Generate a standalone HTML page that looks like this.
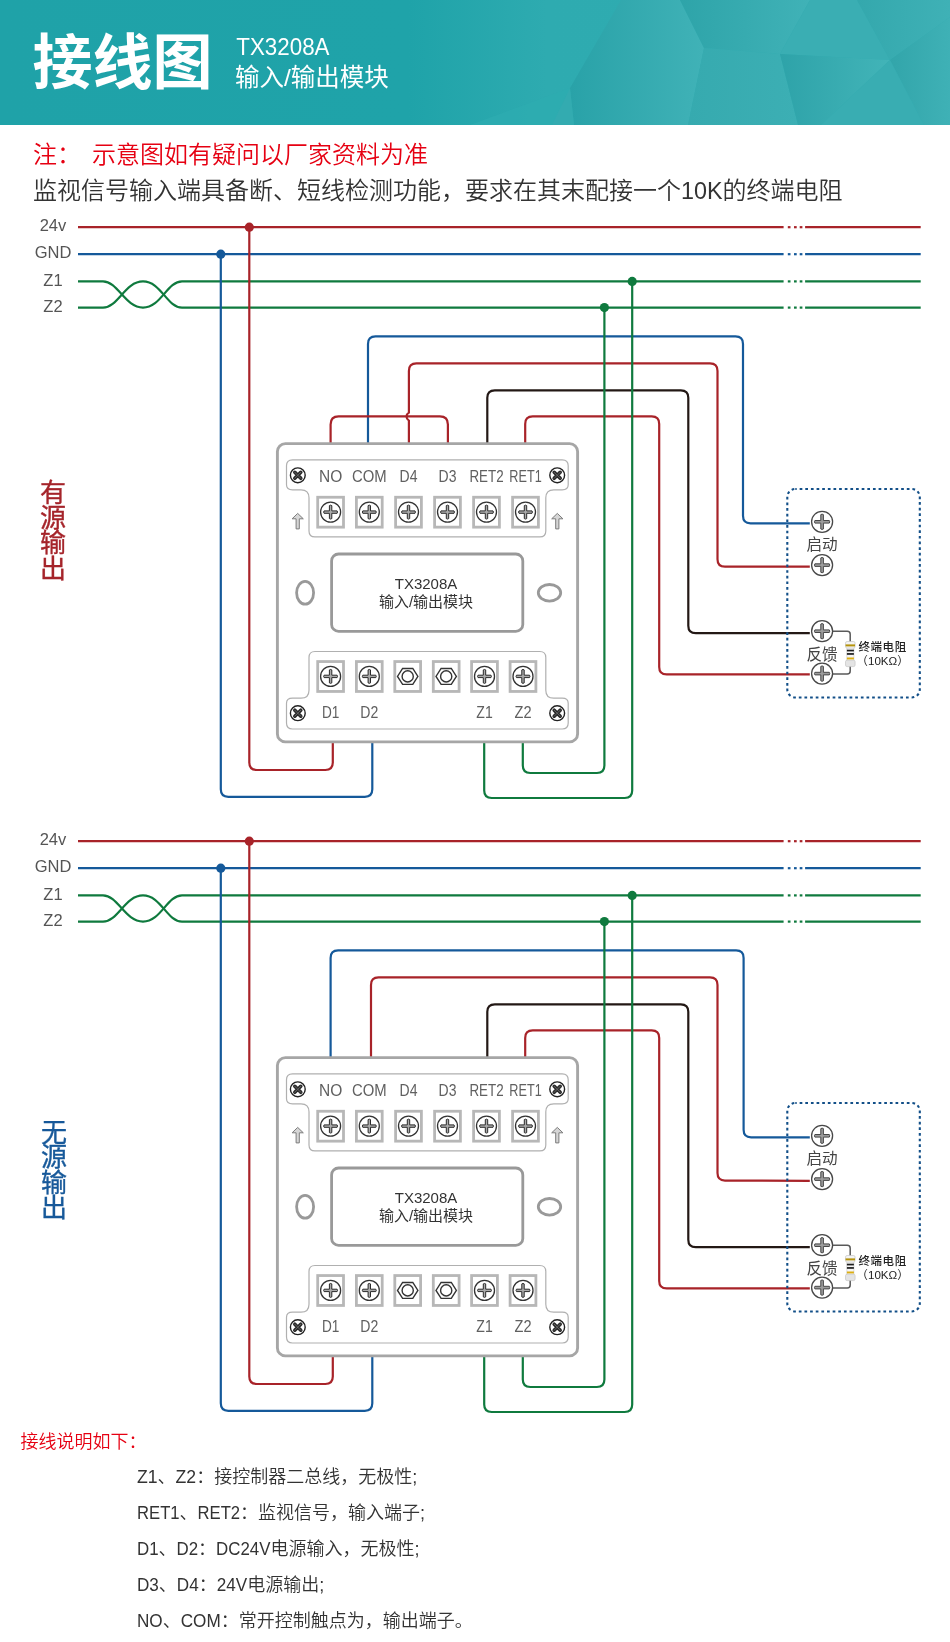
<!DOCTYPE html>
<html lang="zh-CN">
<head>
<meta charset="utf-8">
<title>TX3208A 输入/输出模块 接线图</title>
<style>
html,body{margin:0;padding:0;background:#fff;}
body{width:950px;height:1642px;overflow:hidden;}
svg{display:block;will-change:transform;}
svg text{font-family:"Liberation Sans", "Noto Sans CJK SC", sans-serif;}
</style>
</head>
<body>
<svg width="950" height="1642" viewBox="0 0 950 1642">
<rect x="0" y="0" width="950" height="1642" fill="#fff"/>
<g id="hdr">
<defs>
<linearGradient id="gA" gradientUnits="userSpaceOnUse" x1="0" y1="0" x2="950" y2="0"><stop offset="0" stop-color="#1fa2a8"/><stop offset="0.43" stop-color="#1fa3a9"/><stop offset="0.575" stop-color="#2eabb0"/><stop offset="1" stop-color="#30acb1"/></linearGradient>
<linearGradient id="gB" x1="0" y1="0" x2="1" y2="0"><stop offset="0" stop-color="#29a2a8"/><stop offset="1" stop-color="#40b2b7"/></linearGradient>
<linearGradient id="gD" x1="0" y1="0" x2="1" y2="0"><stop offset="0" stop-color="#2ea4a9"/><stop offset="1" stop-color="#40b2b7"/></linearGradient>
<linearGradient id="gE" x1="0" y1="0" x2="1" y2="0"><stop offset="0" stop-color="#36aaaf"/><stop offset="1" stop-color="#3cafb4"/></linearGradient>
<linearGradient id="gG" x1="0" y1="0" x2="1" y2="0"><stop offset="0" stop-color="#2ea3a9"/><stop offset="1" stop-color="#42b4b8"/></linearGradient>
<linearGradient id="gH" x1="0" y1="0" x2="1" y2="0"><stop offset="0" stop-color="#34a8ad"/><stop offset="1" stop-color="#3fb1b6"/></linearGradient>
<linearGradient id="gI" x1="0" y1="0" x2="1" y2="0"><stop offset="0" stop-color="#32a5aa"/><stop offset="1" stop-color="#3fb1b6"/></linearGradient>
</defs>
<rect x="0" y="0" width="950" height="125" fill="url(#gA)"/>
<polygon points="621,0 680,0 704,48 688,125 574,125 570,88" fill="url(#gB)"/>
<polygon points="570,88 470,125 552,125" fill="#2eacb0" opacity="0.7"/>
<polygon points="570,88 552,125 574,125" fill="#33abb0"/>
<polygon points="680,0 810,0 780,54 704,48" fill="url(#gD)"/>
<polygon points="704,48 780,54 798,125 688,125" fill="url(#gE)"/>
<polygon points="810,0 857,0 890,60 780,54" fill="#3aaeb3"/>
<polygon points="780,54 890,60 821,125 798,125" fill="url(#gG)"/>
<polygon points="857,0 950,0 950,17 890,60" fill="url(#gH)"/>
<polygon points="890,60 950,17 950,125 924,125" fill="url(#gI)"/>
<polygon points="890,60 924,125 821,125" fill="#39adb2"/>
</g>
<text x="32.5" y="83.8" font-size="60" font-weight="700" fill="#fff" id="t_title">接线图</text>
<text x="236.3" y="54.6" font-size="24.8" font-weight="300" fill="#fff" id="t_model" textLength="93.2" lengthAdjust="spacingAndGlyphs">TX3208A</text>
<text x="235" y="86.4" font-size="24.5" font-weight="400" fill="#fff" id="t_sub">输入/输出模块</text>
<text x="33" y="163" font-size="24" font-weight="350" fill="#e60012" id="t_n1a">注：</text>
<text x="92" y="163" font-size="24" font-weight="350" fill="#e60012" id="t_n1b">示意图如有疑问以厂家资料为准</text>
<text x="33" y="199" font-size="24" font-weight="350" fill="#333" id="t_n2">监视信号输入端具备断、短线检测功能，要求在其末配接一个<tspan font-size="24.5" textLength="41.6" lengthAdjust="spacingAndGlyphs">10K</tspan>的终端电阻</text>
<path d="M78,227.2 L783.6,227.2" stroke="#a82329" stroke-width="2.2" fill="none"/>
<path d="M805.1,227.2 L920.7,227.2" stroke="#a82329" stroke-width="2.2" fill="none"/>
<rect x="787.8" y="226.1" width="2.7" height="2.2" fill="#a82329"/>
<rect x="794.0" y="226.1" width="2.7" height="2.2" fill="#a82329"/>
<rect x="799.7" y="226.1" width="2.7" height="2.2" fill="#a82329"/>
<text x="53" y="231.39999999999998" font-size="16.5" fill="#555" text-anchor="middle" class="bl">24v</text>
<path d="M78,254.2 L783.6,254.2" stroke="#15599a" stroke-width="2.2" fill="none"/>
<path d="M805.1,254.2 L920.7,254.2" stroke="#15599a" stroke-width="2.2" fill="none"/>
<rect x="787.8" y="253.1" width="2.7" height="2.2" fill="#15599a"/>
<rect x="794.0" y="253.1" width="2.7" height="2.2" fill="#15599a"/>
<rect x="799.7" y="253.1" width="2.7" height="2.2" fill="#15599a"/>
<text x="53" y="258.4" font-size="16.5" fill="#555" text-anchor="middle" class="bl">GND</text>
<path d="M805.1,281.4 L920.7,281.4" stroke="#0f7a3e" stroke-width="2.2" fill="none"/>
<rect x="787.8" y="280.29999999999995" width="2.7" height="2.2" fill="#0f7a3e"/>
<rect x="794.0" y="280.29999999999995" width="2.7" height="2.2" fill="#0f7a3e"/>
<rect x="799.7" y="280.29999999999995" width="2.7" height="2.2" fill="#0f7a3e"/>
<text x="53" y="285.59999999999997" font-size="16.5" fill="#555" text-anchor="middle" class="bl">Z1</text>
<path d="M805.1,307.6 L920.7,307.6" stroke="#0f7a3e" stroke-width="2.2" fill="none"/>
<rect x="787.8" y="306.5" width="2.7" height="2.2" fill="#0f7a3e"/>
<rect x="794.0" y="306.5" width="2.7" height="2.2" fill="#0f7a3e"/>
<rect x="799.7" y="306.5" width="2.7" height="2.2" fill="#0f7a3e"/>
<text x="53" y="311.8" font-size="16.5" fill="#555" text-anchor="middle" class="bl">Z2</text>
<path d="M78,281.4 L103,281.4 C118,281.4 125,307.6 143,307.6 C161,307.6 167,281.4 182,281.4 L783.6,281.4" stroke="#0f7a3e" stroke-width="2.2" fill="none"/>
<path d="M78,307.6 L103,307.6 C118,307.6 125,281.4 143,281.4 C161,281.4 167,307.6 182,307.6 L783.6,307.6" stroke="#0f7a3e" stroke-width="2.2" fill="none"/>
<path d="M368,443 L368.00,343.90 Q368,336.4 375.50,336.40 L735.50,336.40 Q743,336.4 743.00,343.90 L743.00,515.80 Q743,523.3 750.50,523.30 L809.8,523.3" fill="none" stroke="#15599a" stroke-width="2.2"/>
<path d="M408.9,443 L408.9,420.6 Q406.5,419.2 406.5,416.6 Q406.5,414 408.9,412.6 L408.90,370.90 Q408.9,363.4 416.40,363.40 L710.00,363.40 Q717.5,363.4 717.50,370.90 L717.50,559.20 Q717.5,566.7 725.00,566.70 L809.8,566.7" fill="none" stroke="#a82329" stroke-width="2.2"/>
<path d="M330.6,443 L330.60,424.40 Q330.6,416.4 338.60,416.40 L439.90,416.40 Q447.9,416.4 447.90,424.40 L447.9,443" fill="none" stroke="#a82329" stroke-width="2.2"/>
<path d="M487.3,443 L487.30,397.80 Q487.3,390.3 494.80,390.30 L680.80,390.30 Q688.3,390.3 688.30,397.80 L688.30,625.70 Q688.3,633.2 695.80,633.20 L809.8,633.2" fill="none" stroke="#231815" stroke-width="2.2"/>
<path d="M525.2,443 L525.20,423.90 Q525.2,416.4 532.70,416.40 L651.70,416.40 Q659.2,416.4 659.20,423.90 L659.20,666.90 Q659.2,674.4 666.70,674.40 L809.8,674.4" fill="none" stroke="#a82329" stroke-width="2.2"/>
<path d="M332.8,742 L332.80,762.50 Q332.8,770 325.30,770.00 L256.80,770.00 Q249.3,770 249.30,762.50 L249.3,227.2" fill="none" stroke="#a82329" stroke-width="2.2"/>
<path d="M372.3,742 L372.30,789.30 Q372.3,796.8 364.80,796.80 L228.30,796.80 Q220.8,796.8 220.80,789.30 L220.8,254.2" fill="none" stroke="#15599a" stroke-width="2.2"/>
<path d="M484.2,742 L484.20,790.50 Q484.2,798 491.70,798.00 L624.70,798.00 Q632.2,798 632.20,790.50 L632.2,281.4" fill="none" stroke="#0f7a3e" stroke-width="2.2"/>
<path d="M522.8,742 L522.80,765.50 Q522.8,773 530.30,773.00 L596.90,773.00 Q604.4,773 604.40,765.50 L604.4,307.6" fill="none" stroke="#0f7a3e" stroke-width="2.2"/>
<circle cx="249.3" cy="227.2" r="4.6" fill="#a82329"/>
<circle cx="220.8" cy="254.2" r="4.6" fill="#15599a"/>
<circle cx="632.2" cy="281.4" r="4.6" fill="#0f7a3e"/>
<circle cx="604.4" cy="307.6" r="4.6" fill="#0f7a3e"/>
<rect x="277.4" y="443.6" width="300.2" height="298.3" rx="8" ry="8" fill="#fff" stroke="#a6a6a6" stroke-width="2.9"/>
<path d="M292.5,459.8 L562.2,459.8 Q568.2,459.8 568.2,465.8 L568.2,484.8 Q568.2,489.8 562.2,489.8 L553.8,489.8 Q545.8,489.8 545.8,497.8 L545.8,530.9 Q545.8,536.9 539.8,536.9 L315.0,536.9 Q309.0,536.9 309.0,530.9 L309.0,497.8 Q309.0,489.8 301.0,489.8 L292.5,489.8 Q286.5,489.8 286.5,484.8 L286.5,465.8 Q286.5,459.8 292.5,459.8 Z" fill="#fff" stroke="#b0b0b0" stroke-width="1.2"/>
<path d="M315.0,651.5 L539.8,651.5 Q545.8,651.5 545.8,657.5 L545.8,690.2 Q545.8,698.2 553.8,698.2 L562.2,698.2 Q568.2,698.2 568.2,703.2 L568.2,723.0 Q568.2,729.0 562.2,729.0 L292.5,729.0 Q286.5,729.0 286.5,723.0 L286.5,703.2 Q286.5,698.2 292.5,698.2 L301.0,698.2 Q309.0,698.2 309.0,690.2 L309.0,657.5 Q309.0,651.5 315.0,651.5 Z" fill="#fff" stroke="#b0b0b0" stroke-width="1.2"/>
<circle cx="297.8" cy="475.3" r="7.4" fill="#fff" stroke="#222" stroke-width="1.4"/><path d="M294.8,472.3 L300.8,478.3 M300.8,472.3 L294.8,478.3" stroke="#2b2b2b" stroke-width="3.6" stroke-linecap="round" fill="none"/><path d="M294.8,472.3 L300.8,478.3 M300.8,472.3 L294.8,478.3" stroke="#777" stroke-width="0.7" stroke-linecap="round" fill="none"/>
<circle cx="557.2" cy="475.3" r="7.4" fill="#fff" stroke="#222" stroke-width="1.4"/><path d="M554.2,472.3 L560.2,478.3 M560.2,472.3 L554.2,478.3" stroke="#2b2b2b" stroke-width="3.6" stroke-linecap="round" fill="none"/><path d="M554.2,472.3 L560.2,478.3 M560.2,472.3 L554.2,478.3" stroke="#777" stroke-width="0.7" stroke-linecap="round" fill="none"/>
<circle cx="297.8" cy="713.2" r="7.4" fill="#fff" stroke="#222" stroke-width="1.4"/><path d="M294.8,710.2 L300.8,716.2 M300.8,710.2 L294.8,716.2" stroke="#2b2b2b" stroke-width="3.6" stroke-linecap="round" fill="none"/><path d="M294.8,710.2 L300.8,716.2 M300.8,710.2 L294.8,716.2" stroke="#777" stroke-width="0.7" stroke-linecap="round" fill="none"/>
<circle cx="557.2" cy="713.2" r="7.4" fill="#fff" stroke="#222" stroke-width="1.4"/><path d="M554.2,710.2 L560.2,716.2 M560.2,710.2 L554.2,716.2" stroke="#2b2b2b" stroke-width="3.6" stroke-linecap="round" fill="none"/><path d="M554.2,710.2 L560.2,716.2 M560.2,710.2 L554.2,716.2" stroke="#777" stroke-width="0.7" stroke-linecap="round" fill="none"/>
<path d="M297.7,513.4 L303.3,518.8 L299.3,518.8 L299.3,528.9 L296.09999999999997,528.9 L296.09999999999997,518.8 L292.09999999999997,518.8 Z" fill="#d6d6d6" stroke="#7c7c7c" stroke-width="1" stroke-linejoin="miter"/>
<path d="M557.3,513.4 L562.9,518.8 L558.9,518.8 L558.9,528.9 L555.6999999999999,528.9 L555.6999999999999,518.8 L551.6999999999999,518.8 Z" fill="#d6d6d6" stroke="#7c7c7c" stroke-width="1" stroke-linejoin="miter"/>
<rect x="317.70000000000005" y="497.25" width="25.8" height="29.9" fill="#fff" stroke="#b7b7b7" stroke-width="2.8"/>
<circle cx="330.6" cy="512.1" r="10.0" fill="#fff" stroke="#333" stroke-width="1.3"/><path d="M329.40000000000003,505.6 Q330.6,504.70000000000005 331.8,505.6 L331.8,510.90000000000003 L337.1,510.90000000000003 Q338.0,512.1 337.1,513.3000000000001 L331.8,513.3000000000001 L331.8,518.6 Q330.6,519.5 329.40000000000003,518.6 L329.40000000000003,513.3000000000001 L324.1,513.3000000000001 Q323.20000000000005,512.1 324.1,510.90000000000003 L329.40000000000003,510.90000000000003 Z" fill="#aaaaaa" stroke="#2a2a2a" stroke-width="1"/>
<text x="330.6" y="481.6" font-size="15.6" fill="#606060" text-anchor="middle" class="tl" textLength="23.3" lengthAdjust="spacingAndGlyphs">NO</text>
<rect x="356.40000000000003" y="497.25" width="25.8" height="29.9" fill="#fff" stroke="#b7b7b7" stroke-width="2.8"/>
<circle cx="369.3" cy="512.1" r="10.0" fill="#fff" stroke="#333" stroke-width="1.3"/><path d="M368.1,505.6 Q369.3,504.70000000000005 370.5,505.6 L370.5,510.90000000000003 L375.8,510.90000000000003 Q376.7,512.1 375.8,513.3000000000001 L370.5,513.3000000000001 L370.5,518.6 Q369.3,519.5 368.1,518.6 L368.1,513.3000000000001 L362.8,513.3000000000001 Q361.90000000000003,512.1 362.8,510.90000000000003 L368.1,510.90000000000003 Z" fill="#aaaaaa" stroke="#2a2a2a" stroke-width="1"/>
<text x="369.3" y="481.6" font-size="15.6" fill="#606060" text-anchor="middle" class="tl" textLength="34.7" lengthAdjust="spacingAndGlyphs">COM</text>
<rect x="395.6" y="497.25" width="25.8" height="29.9" fill="#fff" stroke="#b7b7b7" stroke-width="2.8"/>
<circle cx="408.5" cy="512.1" r="10.0" fill="#fff" stroke="#333" stroke-width="1.3"/><path d="M407.3,505.6 Q408.5,504.70000000000005 409.7,505.6 L409.7,510.90000000000003 L415.0,510.90000000000003 Q415.9,512.1 415.0,513.3000000000001 L409.7,513.3000000000001 L409.7,518.6 Q408.5,519.5 407.3,518.6 L407.3,513.3000000000001 L402.0,513.3000000000001 Q401.1,512.1 402.0,510.90000000000003 L407.3,510.90000000000003 Z" fill="#aaaaaa" stroke="#2a2a2a" stroke-width="1"/>
<text x="408.5" y="481.6" font-size="15.6" fill="#606060" text-anchor="middle" class="tl" textLength="17.9" lengthAdjust="spacingAndGlyphs">D4</text>
<rect x="434.6" y="497.25" width="25.8" height="29.9" fill="#fff" stroke="#b7b7b7" stroke-width="2.8"/>
<circle cx="447.5" cy="512.1" r="10.0" fill="#fff" stroke="#333" stroke-width="1.3"/><path d="M446.3,505.6 Q447.5,504.70000000000005 448.7,505.6 L448.7,510.90000000000003 L454.0,510.90000000000003 Q454.9,512.1 454.0,513.3000000000001 L448.7,513.3000000000001 L448.7,518.6 Q447.5,519.5 446.3,518.6 L446.3,513.3000000000001 L441.0,513.3000000000001 Q440.1,512.1 441.0,510.90000000000003 L446.3,510.90000000000003 Z" fill="#aaaaaa" stroke="#2a2a2a" stroke-width="1"/>
<text x="447.5" y="481.6" font-size="15.6" fill="#606060" text-anchor="middle" class="tl" textLength="17.9" lengthAdjust="spacingAndGlyphs">D3</text>
<rect x="473.6" y="497.25" width="25.8" height="29.9" fill="#fff" stroke="#b7b7b7" stroke-width="2.8"/>
<circle cx="486.5" cy="512.1" r="10.0" fill="#fff" stroke="#333" stroke-width="1.3"/><path d="M485.3,505.6 Q486.5,504.70000000000005 487.7,505.6 L487.7,510.90000000000003 L493.0,510.90000000000003 Q493.9,512.1 493.0,513.3000000000001 L487.7,513.3000000000001 L487.7,518.6 Q486.5,519.5 485.3,518.6 L485.3,513.3000000000001 L480.0,513.3000000000001 Q479.1,512.1 480.0,510.90000000000003 L485.3,510.90000000000003 Z" fill="#aaaaaa" stroke="#2a2a2a" stroke-width="1"/>
<text x="486.5" y="481.6" font-size="15.6" fill="#606060" text-anchor="middle" class="tl" textLength="34.2" lengthAdjust="spacingAndGlyphs">RET2</text>
<rect x="512.6" y="497.25" width="25.8" height="29.9" fill="#fff" stroke="#b7b7b7" stroke-width="2.8"/>
<circle cx="525.5" cy="512.1" r="10.0" fill="#fff" stroke="#333" stroke-width="1.3"/><path d="M524.3,505.6 Q525.5,504.70000000000005 526.7,505.6 L526.7,510.90000000000003 L532.0,510.90000000000003 Q532.9,512.1 532.0,513.3000000000001 L526.7,513.3000000000001 L526.7,518.6 Q525.5,519.5 524.3,518.6 L524.3,513.3000000000001 L519.0,513.3000000000001 Q518.1,512.1 519.0,510.90000000000003 L524.3,510.90000000000003 Z" fill="#aaaaaa" stroke="#2a2a2a" stroke-width="1"/>
<text x="525.5" y="481.6" font-size="15.6" fill="#606060" text-anchor="middle" class="tl" textLength="32.4" lengthAdjust="spacingAndGlyphs">RET1</text>
<rect x="317.70000000000005" y="661.55" width="25.8" height="29.9" fill="#fff" stroke="#b7b7b7" stroke-width="2.8"/>
<circle cx="330.6" cy="676.4" r="10.0" fill="#fff" stroke="#333" stroke-width="1.3"/><path d="M329.40000000000003,669.9 Q330.6,669.0 331.8,669.9 L331.8,675.1999999999999 L337.1,675.1999999999999 Q338.0,676.4 337.1,677.6 L331.8,677.6 L331.8,682.9 Q330.6,683.8 329.40000000000003,682.9 L329.40000000000003,677.6 L324.1,677.6 Q323.20000000000005,676.4 324.1,675.1999999999999 L329.40000000000003,675.1999999999999 Z" fill="#aaaaaa" stroke="#2a2a2a" stroke-width="1"/>
<rect x="356.40000000000003" y="661.55" width="25.8" height="29.9" fill="#fff" stroke="#b7b7b7" stroke-width="2.8"/>
<circle cx="369.3" cy="676.4" r="10.0" fill="#fff" stroke="#333" stroke-width="1.3"/><path d="M368.1,669.9 Q369.3,669.0 370.5,669.9 L370.5,675.1999999999999 L375.8,675.1999999999999 Q376.7,676.4 375.8,677.6 L370.5,677.6 L370.5,682.9 Q369.3,683.8 368.1,682.9 L368.1,677.6 L362.8,677.6 Q361.90000000000003,676.4 362.8,675.1999999999999 L368.1,675.1999999999999 Z" fill="#aaaaaa" stroke="#2a2a2a" stroke-width="1"/>
<rect x="394.8" y="661.55" width="25.8" height="29.9" fill="#fff" stroke="#b7b7b7" stroke-width="2.8"/>
<polygon points="417.90,676.40 412.80,684.35 402.60,684.35 397.50,676.40 402.60,668.45 412.80,668.45" fill="#fff" stroke="#333" stroke-width="1.4"/><circle cx="407.7" cy="676.4" r="5.6" fill="#fff" stroke="#333" stroke-width="1.4"/>
<rect x="433.3" y="661.55" width="25.8" height="29.9" fill="#fff" stroke="#b7b7b7" stroke-width="2.8"/>
<polygon points="456.40,676.40 451.30,684.35 441.10,684.35 436.00,676.40 441.10,668.45 451.30,668.45" fill="#fff" stroke="#333" stroke-width="1.4"/><circle cx="446.2" cy="676.4" r="5.6" fill="#fff" stroke="#333" stroke-width="1.4"/>
<rect x="471.6" y="661.55" width="25.8" height="29.9" fill="#fff" stroke="#b7b7b7" stroke-width="2.8"/>
<circle cx="484.5" cy="676.4" r="10.0" fill="#fff" stroke="#333" stroke-width="1.3"/><path d="M483.3,669.9 Q484.5,669.0 485.7,669.9 L485.7,675.1999999999999 L491.0,675.1999999999999 Q491.9,676.4 491.0,677.6 L485.7,677.6 L485.7,682.9 Q484.5,683.8 483.3,682.9 L483.3,677.6 L478.0,677.6 Q477.1,676.4 478.0,675.1999999999999 L483.3,675.1999999999999 Z" fill="#aaaaaa" stroke="#2a2a2a" stroke-width="1"/>
<rect x="510.1" y="661.55" width="25.8" height="29.9" fill="#fff" stroke="#b7b7b7" stroke-width="2.8"/>
<circle cx="523.0" cy="676.4" r="10.0" fill="#fff" stroke="#333" stroke-width="1.3"/><path d="M521.8,669.9 Q523.0,669.0 524.2,669.9 L524.2,675.1999999999999 L529.5,675.1999999999999 Q530.4,676.4 529.5,677.6 L524.2,677.6 L524.2,682.9 Q523.0,683.8 521.8,682.9 L521.8,677.6 L516.5,677.6 Q515.6,676.4 516.5,675.1999999999999 L521.8,675.1999999999999 Z" fill="#aaaaaa" stroke="#2a2a2a" stroke-width="1"/>
<text x="330.6" y="717.8" font-size="15.6" fill="#606060" text-anchor="middle" class="tl" textLength="17.4" lengthAdjust="spacingAndGlyphs">D1</text>
<text x="369.3" y="717.8" font-size="15.6" fill="#606060" text-anchor="middle" class="tl" textLength="18.0" lengthAdjust="spacingAndGlyphs">D2</text>
<text x="484.5" y="717.8" font-size="15.6" fill="#606060" text-anchor="middle" class="tl" textLength="16.4" lengthAdjust="spacingAndGlyphs">Z1</text>
<text x="523.0" y="717.8" font-size="15.6" fill="#606060" text-anchor="middle" class="tl" textLength="17.0" lengthAdjust="spacingAndGlyphs">Z2</text>
<rect x="331.6" y="554" width="191.2" height="77.4" rx="7" ry="7" fill="#fff" stroke="#999" stroke-width="2.8"/>
<ellipse cx="305.1" cy="592.8" rx="8.5" ry="11.4" fill="#fff" stroke="#999" stroke-width="2.8"/>
<ellipse cx="549.5" cy="592.8" rx="11.2" ry="8.3" fill="#fff" stroke="#999" stroke-width="2.8"/>
<text x="426" y="588.8" font-size="15" fill="#333" text-anchor="middle" class="mc">TX3208A</text>
<text x="426" y="606.8" font-size="15" fill="#333" text-anchor="middle" class="mc2">输入/输出模块</text>
<rect x="787.3" y="489" width="132.5" height="208.5" rx="8" ry="8" fill="none" stroke="#124f88" stroke-width="2.1" stroke-dasharray="2.7 2.94" stroke-dashoffset="1.3"/>
<path d="M830,631.3 L847.20,631.30 Q850.2,631.3 850.20,634.30 L850.20,671.10 Q850.2,674.1 847.20,674.10 L830,674.1" fill="none" stroke="#5a5a5a" stroke-width="1.5"/>
<rect x="846.9" y="646" width="7" height="16" fill="#f6f6f6" stroke="#cfcfcf" stroke-width="0.7"/>
<rect x="845.5" y="641.5" width="9.6" height="6.6" rx="1.6" fill="#f3f3f3" stroke="#c6c6c6" stroke-width="0.7"/>
<rect x="845.5" y="660.2" width="9.6" height="6.4" rx="1.6" fill="#e4e4e4" stroke="#c6c6c6" stroke-width="0.7"/>
<rect x="845.6" y="644.4" width="9.4" height="2" fill="#b5930c"/>
<rect x="846.9" y="649.7" width="7" height="1.7" fill="#1c1c1c"/>
<rect x="846.9" y="653.1" width="7" height="1.7" fill="#1c1c1c"/>
<rect x="846.9" y="657.5" width="7" height="1.9" fill="#dcae12"/>
<circle cx="822.1" cy="521.8" r="10.5" fill="#fff" stroke="#484848" stroke-width="1.3"/><path d="M820.8000000000001,514.5999999999999 Q822.1,513.6999999999999 823.4,514.5999999999999 L823.4,520.5 L829.3000000000001,520.5 Q830.2,521.8 829.3000000000001,523.0999999999999 L823.4,523.0999999999999 L823.4,529.0 Q822.1,529.9 820.8000000000001,529.0 L820.8000000000001,523.0999999999999 L814.9,523.0999999999999 Q814.0,521.8 814.9,520.5 L820.8000000000001,520.5 Z" fill="#9c9c9c" stroke="#484848" stroke-width="1"/>
<circle cx="822.1" cy="565.1" r="10.5" fill="#fff" stroke="#484848" stroke-width="1.3"/><path d="M820.8000000000001,557.9 Q822.1,557.0 823.4,557.9 L823.4,563.8000000000001 L829.3000000000001,563.8000000000001 Q830.2,565.1 829.3000000000001,566.4 L823.4,566.4 L823.4,572.3000000000001 Q822.1,573.2 820.8000000000001,572.3000000000001 L820.8000000000001,566.4 L814.9,566.4 Q814.0,565.1 814.9,563.8000000000001 L820.8000000000001,563.8000000000001 Z" fill="#9c9c9c" stroke="#484848" stroke-width="1"/>
<circle cx="822.1" cy="631.2" r="10.5" fill="#fff" stroke="#484848" stroke-width="1.3"/><path d="M820.8000000000001,624.0 Q822.1,623.1 823.4,624.0 L823.4,629.9000000000001 L829.3000000000001,629.9000000000001 Q830.2,631.2 829.3000000000001,632.5 L823.4,632.5 L823.4,638.4000000000001 Q822.1,639.3000000000001 820.8000000000001,638.4000000000001 L820.8000000000001,632.5 L814.9,632.5 Q814.0,631.2 814.9,629.9000000000001 L820.8000000000001,629.9000000000001 Z" fill="#9c9c9c" stroke="#484848" stroke-width="1"/>
<circle cx="822.1" cy="673.6" r="10.5" fill="#fff" stroke="#484848" stroke-width="1.3"/><path d="M820.8000000000001,666.4 Q822.1,665.5 823.4,666.4 L823.4,672.3000000000001 L829.3000000000001,672.3000000000001 Q830.2,673.6 829.3000000000001,674.9 L823.4,674.9 L823.4,680.8000000000001 Q822.1,681.7 820.8000000000001,680.8000000000001 L820.8000000000001,674.9 L814.9,674.9 Q814.0,673.6 814.9,672.3000000000001 L820.8000000000001,672.3000000000001 Z" fill="#9c9c9c" stroke="#484848" stroke-width="1"/>
<text x="822" y="549.5" font-size="15.6" fill="#444" text-anchor="middle" class="rb">启动</text>
<text x="822" y="659.5" font-size="15.6" fill="#444" text-anchor="middle" class="rb">反馈</text>
<text x="882.6" y="651" font-size="11.5" font-weight="500" fill="#222" text-anchor="middle" letter-spacing="0.55" class="rr">终端电阻</text>
<text x="882.6" y="665" font-size="11.6" fill="#222" text-anchor="middle" class="rr2">（10KΩ）</text>
<path d="M78,841.2 L783.6,841.2" stroke="#a82329" stroke-width="2.2" fill="none"/>
<path d="M805.1,841.2 L920.7,841.2" stroke="#a82329" stroke-width="2.2" fill="none"/>
<rect x="787.8" y="840.1" width="2.7" height="2.2" fill="#a82329"/>
<rect x="794.0" y="840.1" width="2.7" height="2.2" fill="#a82329"/>
<rect x="799.7" y="840.1" width="2.7" height="2.2" fill="#a82329"/>
<text x="53" y="845.4000000000001" font-size="16.5" fill="#555" text-anchor="middle" class="bl">24v</text>
<path d="M78,868.2 L783.6,868.2" stroke="#15599a" stroke-width="2.2" fill="none"/>
<path d="M805.1,868.2 L920.7,868.2" stroke="#15599a" stroke-width="2.2" fill="none"/>
<rect x="787.8" y="867.1" width="2.7" height="2.2" fill="#15599a"/>
<rect x="794.0" y="867.1" width="2.7" height="2.2" fill="#15599a"/>
<rect x="799.7" y="867.1" width="2.7" height="2.2" fill="#15599a"/>
<text x="53" y="872.4000000000001" font-size="16.5" fill="#555" text-anchor="middle" class="bl">GND</text>
<path d="M805.1,895.4 L920.7,895.4" stroke="#0f7a3e" stroke-width="2.2" fill="none"/>
<rect x="787.8" y="894.3" width="2.7" height="2.2" fill="#0f7a3e"/>
<rect x="794.0" y="894.3" width="2.7" height="2.2" fill="#0f7a3e"/>
<rect x="799.7" y="894.3" width="2.7" height="2.2" fill="#0f7a3e"/>
<text x="53" y="899.6" font-size="16.5" fill="#555" text-anchor="middle" class="bl">Z1</text>
<path d="M805.1,921.6 L920.7,921.6" stroke="#0f7a3e" stroke-width="2.2" fill="none"/>
<rect x="787.8" y="920.5" width="2.7" height="2.2" fill="#0f7a3e"/>
<rect x="794.0" y="920.5" width="2.7" height="2.2" fill="#0f7a3e"/>
<rect x="799.7" y="920.5" width="2.7" height="2.2" fill="#0f7a3e"/>
<text x="53" y="925.8000000000001" font-size="16.5" fill="#555" text-anchor="middle" class="bl">Z2</text>
<path d="M78,895.4 L103,895.4 C118,895.4 125,921.6 143,921.6 C161,921.6 167,895.4 182,895.4 L783.6,895.4" stroke="#0f7a3e" stroke-width="2.2" fill="none"/>
<path d="M78,921.6 L103,921.6 C118,921.6 125,895.4 143,895.4 C161,895.4 167,921.6 182,921.6 L783.6,921.6" stroke="#0f7a3e" stroke-width="2.2" fill="none"/>
<path d="M330.6,1057 L330.60,957.90 Q330.6,950.4 338.10,950.40 L736.10,950.40 Q743.6,950.4 743.60,957.90 L743.60,1129.80 Q743.6,1137.3 751.10,1137.30 L809.8,1137.3" fill="none" stroke="#15599a" stroke-width="2.2"/>
<path d="M371,1057 L371.00,984.90 Q371,977.4 378.50,977.40 L710.00,977.40 Q717.5,977.4 717.50,984.90 L717.50,1173.10 Q717.5,1180.6 725.00,1180.62 L809.8,1180.8" fill="none" stroke="#a82329" stroke-width="2.2"/>
<path d="M487.3,1057 L487.30,1011.80 Q487.3,1004.3 494.80,1004.30 L680.80,1004.30 Q688.3,1004.3 688.30,1011.80 L688.30,1239.70 Q688.3,1247.2 695.80,1247.20 L809.8,1247.2" fill="none" stroke="#231815" stroke-width="2.2"/>
<path d="M525.2,1057 L525.20,1037.90 Q525.2,1030.4 532.70,1030.40 L651.70,1030.40 Q659.2,1030.4 659.20,1037.90 L659.20,1280.90 Q659.2,1288.4 666.70,1288.40 L809.8,1288.4" fill="none" stroke="#a82329" stroke-width="2.2"/>
<path d="M332.8,1356 L332.80,1376.50 Q332.8,1384 325.30,1384.00 L256.80,1384.00 Q249.3,1384 249.30,1376.50 L249.3,841.2" fill="none" stroke="#a82329" stroke-width="2.2"/>
<path d="M372.3,1356 L372.30,1403.30 Q372.3,1410.8 364.80,1410.80 L228.30,1410.80 Q220.8,1410.8 220.80,1403.30 L220.8,868.2" fill="none" stroke="#15599a" stroke-width="2.2"/>
<path d="M484.2,1356 L484.20,1404.50 Q484.2,1412 491.70,1412.00 L624.70,1412.00 Q632.2,1412 632.20,1404.50 L632.2,895.4" fill="none" stroke="#0f7a3e" stroke-width="2.2"/>
<path d="M522.8,1356 L522.80,1379.50 Q522.8,1387 530.30,1387.00 L596.90,1387.00 Q604.4,1387 604.40,1379.50 L604.4,921.6" fill="none" stroke="#0f7a3e" stroke-width="2.2"/>
<circle cx="249.3" cy="841.2" r="4.6" fill="#a82329"/>
<circle cx="220.8" cy="868.2" r="4.6" fill="#15599a"/>
<circle cx="632.2" cy="895.4" r="4.6" fill="#0f7a3e"/>
<circle cx="604.4" cy="921.6" r="4.6" fill="#0f7a3e"/>
<rect x="277.4" y="1057.6" width="300.2" height="298.3" rx="8" ry="8" fill="#fff" stroke="#a6a6a6" stroke-width="2.9"/>
<path d="M292.5,1073.8 L562.2,1073.8 Q568.2,1073.8 568.2,1079.8 L568.2,1098.8 Q568.2,1103.8 562.2,1103.8 L553.8,1103.8 Q545.8,1103.8 545.8,1111.8 L545.8,1144.9 Q545.8,1150.9 539.8,1150.9 L315.0,1150.9 Q309.0,1150.9 309.0,1144.9 L309.0,1111.8 Q309.0,1103.8 301.0,1103.8 L292.5,1103.8 Q286.5,1103.8 286.5,1098.8 L286.5,1079.8 Q286.5,1073.8 292.5,1073.8 Z" fill="#fff" stroke="#b0b0b0" stroke-width="1.2"/>
<path d="M315.0,1265.5 L539.8,1265.5 Q545.8,1265.5 545.8,1271.5 L545.8,1304.2 Q545.8,1312.2 553.8,1312.2 L562.2,1312.2 Q568.2,1312.2 568.2,1317.2 L568.2,1337.0 Q568.2,1343.0 562.2,1343.0 L292.5,1343.0 Q286.5,1343.0 286.5,1337.0 L286.5,1317.2 Q286.5,1312.2 292.5,1312.2 L301.0,1312.2 Q309.0,1312.2 309.0,1304.2 L309.0,1271.5 Q309.0,1265.5 315.0,1265.5 Z" fill="#fff" stroke="#b0b0b0" stroke-width="1.2"/>
<circle cx="297.8" cy="1089.3" r="7.4" fill="#fff" stroke="#222" stroke-width="1.4"/><path d="M294.8,1086.3 L300.8,1092.3 M300.8,1086.3 L294.8,1092.3" stroke="#2b2b2b" stroke-width="3.6" stroke-linecap="round" fill="none"/><path d="M294.8,1086.3 L300.8,1092.3 M300.8,1086.3 L294.8,1092.3" stroke="#777" stroke-width="0.7" stroke-linecap="round" fill="none"/>
<circle cx="557.2" cy="1089.3" r="7.4" fill="#fff" stroke="#222" stroke-width="1.4"/><path d="M554.2,1086.3 L560.2,1092.3 M560.2,1086.3 L554.2,1092.3" stroke="#2b2b2b" stroke-width="3.6" stroke-linecap="round" fill="none"/><path d="M554.2,1086.3 L560.2,1092.3 M560.2,1086.3 L554.2,1092.3" stroke="#777" stroke-width="0.7" stroke-linecap="round" fill="none"/>
<circle cx="297.8" cy="1327.2" r="7.4" fill="#fff" stroke="#222" stroke-width="1.4"/><path d="M294.8,1324.2 L300.8,1330.2 M300.8,1324.2 L294.8,1330.2" stroke="#2b2b2b" stroke-width="3.6" stroke-linecap="round" fill="none"/><path d="M294.8,1324.2 L300.8,1330.2 M300.8,1324.2 L294.8,1330.2" stroke="#777" stroke-width="0.7" stroke-linecap="round" fill="none"/>
<circle cx="557.2" cy="1327.2" r="7.4" fill="#fff" stroke="#222" stroke-width="1.4"/><path d="M554.2,1324.2 L560.2,1330.2 M560.2,1324.2 L554.2,1330.2" stroke="#2b2b2b" stroke-width="3.6" stroke-linecap="round" fill="none"/><path d="M554.2,1324.2 L560.2,1330.2 M560.2,1324.2 L554.2,1330.2" stroke="#777" stroke-width="0.7" stroke-linecap="round" fill="none"/>
<path d="M297.7,1127.4 L303.3,1132.8000000000002 L299.3,1132.8000000000002 L299.3,1142.9 L296.09999999999997,1142.9 L296.09999999999997,1132.8000000000002 L292.09999999999997,1132.8000000000002 Z" fill="#d6d6d6" stroke="#7c7c7c" stroke-width="1" stroke-linejoin="miter"/>
<path d="M557.3,1127.4 L562.9,1132.8000000000002 L558.9,1132.8000000000002 L558.9,1142.9 L555.6999999999999,1142.9 L555.6999999999999,1132.8000000000002 L551.6999999999999,1132.8000000000002 Z" fill="#d6d6d6" stroke="#7c7c7c" stroke-width="1" stroke-linejoin="miter"/>
<rect x="317.70000000000005" y="1111.25" width="25.8" height="29.9" fill="#fff" stroke="#b7b7b7" stroke-width="2.8"/>
<circle cx="330.6" cy="1126.1" r="10.0" fill="#fff" stroke="#333" stroke-width="1.3"/><path d="M329.40000000000003,1119.6 Q330.6,1118.6999999999998 331.8,1119.6 L331.8,1124.8999999999999 L337.1,1124.8999999999999 Q338.0,1126.1 337.1,1127.3 L331.8,1127.3 L331.8,1132.6 Q330.6,1133.5 329.40000000000003,1132.6 L329.40000000000003,1127.3 L324.1,1127.3 Q323.20000000000005,1126.1 324.1,1124.8999999999999 L329.40000000000003,1124.8999999999999 Z" fill="#aaaaaa" stroke="#2a2a2a" stroke-width="1"/>
<text x="330.6" y="1095.6" font-size="15.6" fill="#606060" text-anchor="middle" class="tl" textLength="23.3" lengthAdjust="spacingAndGlyphs">NO</text>
<rect x="356.40000000000003" y="1111.25" width="25.8" height="29.9" fill="#fff" stroke="#b7b7b7" stroke-width="2.8"/>
<circle cx="369.3" cy="1126.1" r="10.0" fill="#fff" stroke="#333" stroke-width="1.3"/><path d="M368.1,1119.6 Q369.3,1118.6999999999998 370.5,1119.6 L370.5,1124.8999999999999 L375.8,1124.8999999999999 Q376.7,1126.1 375.8,1127.3 L370.5,1127.3 L370.5,1132.6 Q369.3,1133.5 368.1,1132.6 L368.1,1127.3 L362.8,1127.3 Q361.90000000000003,1126.1 362.8,1124.8999999999999 L368.1,1124.8999999999999 Z" fill="#aaaaaa" stroke="#2a2a2a" stroke-width="1"/>
<text x="369.3" y="1095.6" font-size="15.6" fill="#606060" text-anchor="middle" class="tl" textLength="34.7" lengthAdjust="spacingAndGlyphs">COM</text>
<rect x="395.6" y="1111.25" width="25.8" height="29.9" fill="#fff" stroke="#b7b7b7" stroke-width="2.8"/>
<circle cx="408.5" cy="1126.1" r="10.0" fill="#fff" stroke="#333" stroke-width="1.3"/><path d="M407.3,1119.6 Q408.5,1118.6999999999998 409.7,1119.6 L409.7,1124.8999999999999 L415.0,1124.8999999999999 Q415.9,1126.1 415.0,1127.3 L409.7,1127.3 L409.7,1132.6 Q408.5,1133.5 407.3,1132.6 L407.3,1127.3 L402.0,1127.3 Q401.1,1126.1 402.0,1124.8999999999999 L407.3,1124.8999999999999 Z" fill="#aaaaaa" stroke="#2a2a2a" stroke-width="1"/>
<text x="408.5" y="1095.6" font-size="15.6" fill="#606060" text-anchor="middle" class="tl" textLength="17.9" lengthAdjust="spacingAndGlyphs">D4</text>
<rect x="434.6" y="1111.25" width="25.8" height="29.9" fill="#fff" stroke="#b7b7b7" stroke-width="2.8"/>
<circle cx="447.5" cy="1126.1" r="10.0" fill="#fff" stroke="#333" stroke-width="1.3"/><path d="M446.3,1119.6 Q447.5,1118.6999999999998 448.7,1119.6 L448.7,1124.8999999999999 L454.0,1124.8999999999999 Q454.9,1126.1 454.0,1127.3 L448.7,1127.3 L448.7,1132.6 Q447.5,1133.5 446.3,1132.6 L446.3,1127.3 L441.0,1127.3 Q440.1,1126.1 441.0,1124.8999999999999 L446.3,1124.8999999999999 Z" fill="#aaaaaa" stroke="#2a2a2a" stroke-width="1"/>
<text x="447.5" y="1095.6" font-size="15.6" fill="#606060" text-anchor="middle" class="tl" textLength="17.9" lengthAdjust="spacingAndGlyphs">D3</text>
<rect x="473.6" y="1111.25" width="25.8" height="29.9" fill="#fff" stroke="#b7b7b7" stroke-width="2.8"/>
<circle cx="486.5" cy="1126.1" r="10.0" fill="#fff" stroke="#333" stroke-width="1.3"/><path d="M485.3,1119.6 Q486.5,1118.6999999999998 487.7,1119.6 L487.7,1124.8999999999999 L493.0,1124.8999999999999 Q493.9,1126.1 493.0,1127.3 L487.7,1127.3 L487.7,1132.6 Q486.5,1133.5 485.3,1132.6 L485.3,1127.3 L480.0,1127.3 Q479.1,1126.1 480.0,1124.8999999999999 L485.3,1124.8999999999999 Z" fill="#aaaaaa" stroke="#2a2a2a" stroke-width="1"/>
<text x="486.5" y="1095.6" font-size="15.6" fill="#606060" text-anchor="middle" class="tl" textLength="34.2" lengthAdjust="spacingAndGlyphs">RET2</text>
<rect x="512.6" y="1111.25" width="25.8" height="29.9" fill="#fff" stroke="#b7b7b7" stroke-width="2.8"/>
<circle cx="525.5" cy="1126.1" r="10.0" fill="#fff" stroke="#333" stroke-width="1.3"/><path d="M524.3,1119.6 Q525.5,1118.6999999999998 526.7,1119.6 L526.7,1124.8999999999999 L532.0,1124.8999999999999 Q532.9,1126.1 532.0,1127.3 L526.7,1127.3 L526.7,1132.6 Q525.5,1133.5 524.3,1132.6 L524.3,1127.3 L519.0,1127.3 Q518.1,1126.1 519.0,1124.8999999999999 L524.3,1124.8999999999999 Z" fill="#aaaaaa" stroke="#2a2a2a" stroke-width="1"/>
<text x="525.5" y="1095.6" font-size="15.6" fill="#606060" text-anchor="middle" class="tl" textLength="32.4" lengthAdjust="spacingAndGlyphs">RET1</text>
<rect x="317.70000000000005" y="1275.5500000000002" width="25.8" height="29.9" fill="#fff" stroke="#b7b7b7" stroke-width="2.8"/>
<circle cx="330.6" cy="1290.4" r="10.0" fill="#fff" stroke="#333" stroke-width="1.3"/><path d="M329.40000000000003,1283.9 Q330.6,1283.0 331.8,1283.9 L331.8,1289.2 L337.1,1289.2 Q338.0,1290.4 337.1,1291.6000000000001 L331.8,1291.6000000000001 L331.8,1296.9 Q330.6,1297.8000000000002 329.40000000000003,1296.9 L329.40000000000003,1291.6000000000001 L324.1,1291.6000000000001 Q323.20000000000005,1290.4 324.1,1289.2 L329.40000000000003,1289.2 Z" fill="#aaaaaa" stroke="#2a2a2a" stroke-width="1"/>
<rect x="356.40000000000003" y="1275.5500000000002" width="25.8" height="29.9" fill="#fff" stroke="#b7b7b7" stroke-width="2.8"/>
<circle cx="369.3" cy="1290.4" r="10.0" fill="#fff" stroke="#333" stroke-width="1.3"/><path d="M368.1,1283.9 Q369.3,1283.0 370.5,1283.9 L370.5,1289.2 L375.8,1289.2 Q376.7,1290.4 375.8,1291.6000000000001 L370.5,1291.6000000000001 L370.5,1296.9 Q369.3,1297.8000000000002 368.1,1296.9 L368.1,1291.6000000000001 L362.8,1291.6000000000001 Q361.90000000000003,1290.4 362.8,1289.2 L368.1,1289.2 Z" fill="#aaaaaa" stroke="#2a2a2a" stroke-width="1"/>
<rect x="394.8" y="1275.5500000000002" width="25.8" height="29.9" fill="#fff" stroke="#b7b7b7" stroke-width="2.8"/>
<polygon points="417.90,1290.40 412.80,1298.35 402.60,1298.35 397.50,1290.40 402.60,1282.45 412.80,1282.45" fill="#fff" stroke="#333" stroke-width="1.4"/><circle cx="407.7" cy="1290.4" r="5.6" fill="#fff" stroke="#333" stroke-width="1.4"/>
<rect x="433.3" y="1275.5500000000002" width="25.8" height="29.9" fill="#fff" stroke="#b7b7b7" stroke-width="2.8"/>
<polygon points="456.40,1290.40 451.30,1298.35 441.10,1298.35 436.00,1290.40 441.10,1282.45 451.30,1282.45" fill="#fff" stroke="#333" stroke-width="1.4"/><circle cx="446.2" cy="1290.4" r="5.6" fill="#fff" stroke="#333" stroke-width="1.4"/>
<rect x="471.6" y="1275.5500000000002" width="25.8" height="29.9" fill="#fff" stroke="#b7b7b7" stroke-width="2.8"/>
<circle cx="484.5" cy="1290.4" r="10.0" fill="#fff" stroke="#333" stroke-width="1.3"/><path d="M483.3,1283.9 Q484.5,1283.0 485.7,1283.9 L485.7,1289.2 L491.0,1289.2 Q491.9,1290.4 491.0,1291.6000000000001 L485.7,1291.6000000000001 L485.7,1296.9 Q484.5,1297.8000000000002 483.3,1296.9 L483.3,1291.6000000000001 L478.0,1291.6000000000001 Q477.1,1290.4 478.0,1289.2 L483.3,1289.2 Z" fill="#aaaaaa" stroke="#2a2a2a" stroke-width="1"/>
<rect x="510.1" y="1275.5500000000002" width="25.8" height="29.9" fill="#fff" stroke="#b7b7b7" stroke-width="2.8"/>
<circle cx="523.0" cy="1290.4" r="10.0" fill="#fff" stroke="#333" stroke-width="1.3"/><path d="M521.8,1283.9 Q523.0,1283.0 524.2,1283.9 L524.2,1289.2 L529.5,1289.2 Q530.4,1290.4 529.5,1291.6000000000001 L524.2,1291.6000000000001 L524.2,1296.9 Q523.0,1297.8000000000002 521.8,1296.9 L521.8,1291.6000000000001 L516.5,1291.6000000000001 Q515.6,1290.4 516.5,1289.2 L521.8,1289.2 Z" fill="#aaaaaa" stroke="#2a2a2a" stroke-width="1"/>
<text x="330.6" y="1331.8" font-size="15.6" fill="#606060" text-anchor="middle" class="tl" textLength="17.4" lengthAdjust="spacingAndGlyphs">D1</text>
<text x="369.3" y="1331.8" font-size="15.6" fill="#606060" text-anchor="middle" class="tl" textLength="18.0" lengthAdjust="spacingAndGlyphs">D2</text>
<text x="484.5" y="1331.8" font-size="15.6" fill="#606060" text-anchor="middle" class="tl" textLength="16.4" lengthAdjust="spacingAndGlyphs">Z1</text>
<text x="523.0" y="1331.8" font-size="15.6" fill="#606060" text-anchor="middle" class="tl" textLength="17.0" lengthAdjust="spacingAndGlyphs">Z2</text>
<rect x="331.6" y="1168" width="191.2" height="77.4" rx="7" ry="7" fill="#fff" stroke="#999" stroke-width="2.8"/>
<ellipse cx="305.1" cy="1206.8" rx="8.5" ry="11.4" fill="#fff" stroke="#999" stroke-width="2.8"/>
<ellipse cx="549.5" cy="1206.8" rx="11.2" ry="8.3" fill="#fff" stroke="#999" stroke-width="2.8"/>
<text x="426" y="1202.8" font-size="15" fill="#333" text-anchor="middle" class="mc">TX3208A</text>
<text x="426" y="1220.8" font-size="15" fill="#333" text-anchor="middle" class="mc2">输入/输出模块</text>
<rect x="787.3" y="1103" width="132.5" height="208.5" rx="8" ry="8" fill="none" stroke="#124f88" stroke-width="2.1" stroke-dasharray="2.7 2.94" stroke-dashoffset="1.3"/>
<path d="M830,1245.3 L847.20,1245.30 Q850.2,1245.3 850.20,1248.30 L850.20,1285.10 Q850.2,1288.1 847.20,1288.10 L830,1288.1" fill="none" stroke="#5a5a5a" stroke-width="1.5"/>
<rect x="846.9" y="1260" width="7" height="16" fill="#f6f6f6" stroke="#cfcfcf" stroke-width="0.7"/>
<rect x="845.5" y="1255.5" width="9.6" height="6.6" rx="1.6" fill="#f3f3f3" stroke="#c6c6c6" stroke-width="0.7"/>
<rect x="845.5" y="1274.2" width="9.6" height="6.4" rx="1.6" fill="#e4e4e4" stroke="#c6c6c6" stroke-width="0.7"/>
<rect x="845.6" y="1258.4" width="9.4" height="2" fill="#b5930c"/>
<rect x="846.9" y="1263.7" width="7" height="1.7" fill="#1c1c1c"/>
<rect x="846.9" y="1267.1" width="7" height="1.7" fill="#1c1c1c"/>
<rect x="846.9" y="1271.5" width="7" height="1.9" fill="#dcae12"/>
<circle cx="822.1" cy="1135.8" r="10.5" fill="#fff" stroke="#484848" stroke-width="1.3"/><path d="M820.8000000000001,1128.6 Q822.1,1127.6999999999998 823.4,1128.6 L823.4,1134.5 L829.3000000000001,1134.5 Q830.2,1135.8 829.3000000000001,1137.1 L823.4,1137.1 L823.4,1143.0 Q822.1,1143.9 820.8000000000001,1143.0 L820.8000000000001,1137.1 L814.9,1137.1 Q814.0,1135.8 814.9,1134.5 L820.8000000000001,1134.5 Z" fill="#9c9c9c" stroke="#484848" stroke-width="1"/>
<circle cx="822.1" cy="1179.1" r="10.5" fill="#fff" stroke="#484848" stroke-width="1.3"/><path d="M820.8000000000001,1171.8999999999999 Q822.1,1170.9999999999998 823.4,1171.8999999999999 L823.4,1177.8 L829.3000000000001,1177.8 Q830.2,1179.1 829.3000000000001,1180.3999999999999 L823.4,1180.3999999999999 L823.4,1186.3 Q822.1,1187.2 820.8000000000001,1186.3 L820.8000000000001,1180.3999999999999 L814.9,1180.3999999999999 Q814.0,1179.1 814.9,1177.8 L820.8000000000001,1177.8 Z" fill="#9c9c9c" stroke="#484848" stroke-width="1"/>
<circle cx="822.1" cy="1245.2" r="10.5" fill="#fff" stroke="#484848" stroke-width="1.3"/><path d="M820.8000000000001,1238.0 Q822.1,1237.1 823.4,1238.0 L823.4,1243.9 L829.3000000000001,1243.9 Q830.2,1245.2 829.3000000000001,1246.5 L823.4,1246.5 L823.4,1252.4 Q822.1,1253.3000000000002 820.8000000000001,1252.4 L820.8000000000001,1246.5 L814.9,1246.5 Q814.0,1245.2 814.9,1243.9 L820.8000000000001,1243.9 Z" fill="#9c9c9c" stroke="#484848" stroke-width="1"/>
<circle cx="822.1" cy="1287.6" r="10.5" fill="#fff" stroke="#484848" stroke-width="1.3"/><path d="M820.8000000000001,1280.3999999999999 Q822.1,1279.4999999999998 823.4,1280.3999999999999 L823.4,1286.3 L829.3000000000001,1286.3 Q830.2,1287.6 829.3000000000001,1288.8999999999999 L823.4,1288.8999999999999 L823.4,1294.8 Q822.1,1295.7 820.8000000000001,1294.8 L820.8000000000001,1288.8999999999999 L814.9,1288.8999999999999 Q814.0,1287.6 814.9,1286.3 L820.8000000000001,1286.3 Z" fill="#9c9c9c" stroke="#484848" stroke-width="1"/>
<text x="822" y="1163.5" font-size="15.6" fill="#444" text-anchor="middle" class="rb">启动</text>
<text x="822" y="1273.5" font-size="15.6" fill="#444" text-anchor="middle" class="rb">反馈</text>
<text x="882.6" y="1265" font-size="11.5" font-weight="500" fill="#222" text-anchor="middle" letter-spacing="0.55" class="rr">终端电阻</text>
<text x="882.6" y="1279" font-size="11.6" fill="#222" text-anchor="middle" class="rr2">（10KΩ）</text>
<text x="53" y="502.3" font-size="26" font-weight="400" fill="#a5242a" stroke="#a5242a" stroke-width="0.35" text-anchor="middle" class="sl">有</text>
<text x="53" y="527.3" font-size="26" font-weight="400" fill="#a5242a" stroke="#a5242a" stroke-width="0.35" text-anchor="middle" class="sl">源</text>
<text x="53" y="552.3" font-size="26" font-weight="400" fill="#a5242a" stroke="#a5242a" stroke-width="0.35" text-anchor="middle" class="sl">输</text>
<text x="53" y="578.3" font-size="26" font-weight="400" fill="#a5242a" stroke="#a5242a" stroke-width="0.35" text-anchor="middle" class="sl">出</text>
<text x="54" y="1141.8999999999999" font-size="26" font-weight="400" fill="#17599a" stroke="#17599a" stroke-width="0.35" text-anchor="middle" class="sl">无</text>
<text x="54" y="1166.3" font-size="26" font-weight="400" fill="#17599a" stroke="#17599a" stroke-width="0.35" text-anchor="middle" class="sl">源</text>
<text x="54" y="1192.3" font-size="26" font-weight="400" fill="#17599a" stroke="#17599a" stroke-width="0.35" text-anchor="middle" class="sl">输</text>
<text x="54" y="1217.3" font-size="26" font-weight="400" fill="#17599a" stroke="#17599a" stroke-width="0.35" text-anchor="middle" class="sl">出</text>
<text x="20.5" y="1447.5" font-size="18" font-weight="350" fill="#e60012" id="t_f0">接线说明如下：</text>
<text x="137" y="1483.1" font-size="18" font-weight="350" fill="#333" class="fl"><tspan textLength="20.59" lengthAdjust="spacingAndGlyphs">Z1</tspan>、<tspan textLength="20.59" lengthAdjust="spacingAndGlyphs">Z2</tspan>：接控制器二总线，无极性;</text>
<text x="137" y="1519.1" font-size="18" font-weight="350" fill="#333" class="fl"><tspan textLength="42.56" lengthAdjust="spacingAndGlyphs">RET1</tspan>、<tspan textLength="42.56" lengthAdjust="spacingAndGlyphs">RET2</tspan>：监视信号，输入端子;</text>
<text x="137" y="1555.1" font-size="18" font-weight="350" fill="#333" class="fl"><tspan textLength="21.56" lengthAdjust="spacingAndGlyphs">D1</tspan>、<tspan textLength="21.56" lengthAdjust="spacingAndGlyphs">D2</tspan>：<tspan textLength="54.37" lengthAdjust="spacingAndGlyphs">DC24V</tspan>电源输入，无极性;</text>
<text x="137" y="1591.1" font-size="18" font-weight="350" fill="#333" class="fl"><tspan textLength="21.86" lengthAdjust="spacingAndGlyphs">D3</tspan>、<tspan textLength="21.86" lengthAdjust="spacingAndGlyphs">D4</tspan>：<tspan textLength="30.43" lengthAdjust="spacingAndGlyphs">24V</tspan>电源输出;</text>
<text x="137" y="1627.1" font-size="18" font-weight="350" fill="#333" class="fl"><tspan textLength="25.70" lengthAdjust="spacingAndGlyphs">NO</tspan>、<tspan textLength="39.98" lengthAdjust="spacingAndGlyphs">COM</tspan>：常开控制触点为，输出端子。</text>
</svg>
</body>
</html>
